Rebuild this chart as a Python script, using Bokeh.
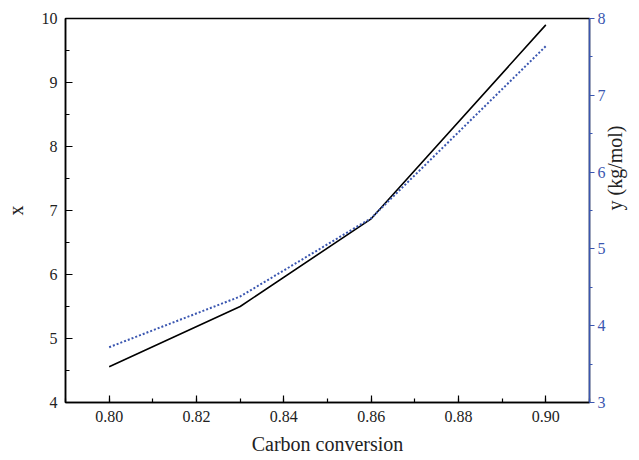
import math
from bokeh.plotting import figure
from bokeh.models import LinearAxis, Range1d, SingleIntervalTicker, CustomJSTickFormatter
from bokeh.embed import file_html
from bokeh.resources import INLINE

carbon_conversion = [0.80, 0.83, 0.86, 0.90]
x_values = [4.56, 5.50, 6.87, 9.90]
y_values = [3.72, 4.38, 5.40, 7.64]

FONT = "Times New Roman"
BLUE = "#3a56b0"

p = figure(width=639, height=460, output_backend="svg", toolbar_location=None,
           x_range=Range1d(0.79, 0.91), y_range=Range1d(4, 10),
           min_border_left=65, min_border_right=50, min_border_top=18, min_border_bottom=58)
p.extra_y_ranges = {"right": Range1d(3, 8)}
p.grid.visible = False
p.outline_line_color = "black"
p.outline_line_width = 1.5
p.background_fill_color = "white"
p.border_fill_color = "white"

xa = p.xaxis[0]
xa.ticker = SingleIntervalTicker(interval=0.02, num_minor_ticks=2)
xa.formatter = CustomJSTickFormatter(code="return tick.toFixed(2);")
xa.axis_label = "Carbon conversion"

ya = p.yaxis[0]
ya.ticker = SingleIntervalTicker(interval=1, num_minor_ticks=2)
ya.axis_label = "x"

for ax in (xa, ya):
    ax.axis_line_color = "black"
    ax.axis_line_width = 1.5
    ax.major_tick_in = 7
    ax.major_tick_out = 0
    ax.minor_tick_in = 4
    ax.minor_tick_out = 0
    ax.major_tick_line_width = 1.2
    ax.minor_tick_line_width = 1.2
    ax.major_label_text_font = FONT
    ax.major_label_text_font_style = "normal"
    ax.axis_label_text_font = FONT
    ax.axis_label_text_font_style = "normal"
    ax.axis_label_text_font_size = "20px"
    ax.major_label_text_color = "#222222"
    ax.axis_label_text_color = "#222222"

xa.major_label_text_font_size = "16px"
xa.major_label_standoff = 8
xa.axis_label_standoff = 8
ya.major_label_text_font_size = "16px"
ya.major_label_standoff = 8
ya.axis_label_standoff = 12

ra = LinearAxis(y_range_name="right", axis_label="y (kg/mol)",
                ticker=SingleIntervalTicker(interval=1, num_minor_ticks=2))
ra.axis_line_color = BLUE
ra.axis_line_width = 1.5
ra.major_tick_line_color = BLUE
ra.minor_tick_line_color = BLUE
ra.major_tick_in = 0
ra.major_tick_out = 5
ra.minor_tick_in = 0
ra.minor_tick_out = 3
ra.major_tick_line_width = 1.2
ra.minor_tick_line_width = 1.2
ra.major_label_text_font = FONT
ra.major_label_text_font_style = "normal"
ra.major_label_text_font_size = "16px"
ra.major_label_text_color = BLUE
ra.major_label_standoff = 3
ra.axis_label_text_font = FONT
ra.axis_label_text_font_style = "normal"
ra.axis_label_text_font_size = "20px"
ra.axis_label_text_color = "#222222"
ra.axis_label_standoff = 6
ra.axis_label_orientation = math.pi / 2
p.add_layout(ra, "right")

p.line(carbon_conversion, x_values, line_color="black", line_width=1.6)
p.line(carbon_conversion, y_values, y_range_name="right", line_color=BLUE,
       line_width=2, line_dash="2 2")

open("out.html", "w").write(file_html(p, INLINE))
